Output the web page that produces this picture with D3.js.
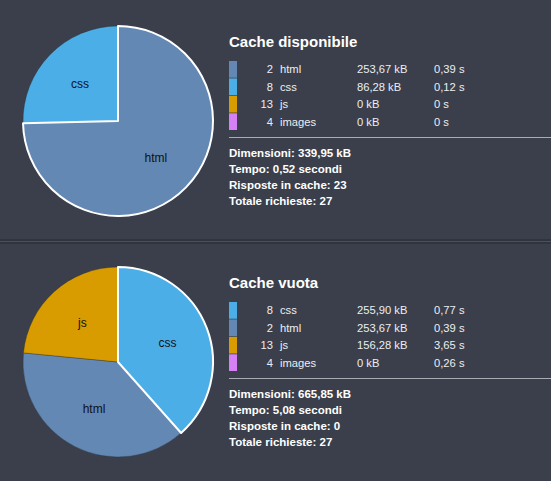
<!DOCTYPE html>
<html>
<head>
<meta charset="utf-8">
<script src="https://cdn.jsdelivr.net/npm/d3@7"></script>
<style>
  body { margin: 0; background: #3a3f4b; }
  svg text { font-family: "Liberation Sans", Arial, sans-serif; }
</style>
</head>
<body>
<div id="chart"></div>
<script>
// panel titles
var titles = ["Cache disponibile", "Cache vuota"];

// panel 1 rows
var types1 = ["html", "css", "js", "images"];
var counts1 = [2, 8, 13, 4];
var sizes1 = [253.67, 86.28, 0, 0];
var times1 = [0.39, 0.12, 0, 0];

// panel 2 rows
var types2 = ["css", "html", "js", "images"];
var counts2 = [8, 2, 13, 4];
var sizes2 = [255.90, 253.67, 156.28, 0];
var times2 = [0.77, 0.39, 3.65, 0.26];

// summary lines
var totalSize = [339.95, 665.85];
var totalTime = [0.52, 5.08];
var cached = [23, 0];
var requests = [27, 27];

var colors = { html: "#6388b4", css: "#4caee7", js: "#d89b00", images: "#d580f4" };

var width = 551, height = 481, panelH = 241;

var it = d3.formatLocale({ decimal: ",", thousands: ".", grouping: [3], currency: ["", "€"] });
var f2 = it.format(".2f");
function num(v) { return v === 0 ? "0" : f2(v); }

var svg = d3.select("#chart").append("svg")
    .attr("width", width)
    .attr("height", height);

// divider between the two panels
svg.append("rect").attr("x", 0).attr("y", 239).attr("width", width).attr("height", 5).attr("fill", "#30343e");
svg.append("rect").attr("x", 0).attr("y", 241).attr("width", width).attr("height", 1).attr("fill", "#4b505c");

var panels = [
    { types: types1, counts: counts1, sizes: sizes1, times: times1 },
    { types: types2, counts: counts2, sizes: sizes2, times: times2 }
];

panels.forEach(function (p, k) {
    var g = svg.append("g").attr("transform", "translate(0," + (k * panelH) + ")");

    var rows = p.types.map(function (t, i) {
        return { type: t, count: p.counts[i], size: p.sizes[i], time: p.times[i] };
    });

    var radius = 95;
    var pie = d3.pie().sort(null).value(function (d) { return d.size; });
    var arc = d3.arc().innerRadius(0).outerRadius(radius);
    var labelArc = d3.arc().innerRadius(53).outerRadius(53);

    var arcs = pie(rows).filter(function (d) { return d.data.size > 0; });
    // draw the selected (first) slice last so its outline stays on top
    var ordered = arcs.slice(1).concat(arcs.slice(0, 1));

    var pg = g.append("g").attr("transform", "translate(118,121)");
    pg.selectAll(".slice")
        .data(ordered)
        .enter().append("path")
        .attr("class", "slice")
        .attr("d", arc)
        .attr("fill", function (d) { return colors[d.data.type]; })
        .attr("stroke", function (d) { return d.index === 0 ? "#ffffff" : "rgba(40,44,54,0.6)"; })
        .attr("stroke-width", function (d) { return d.index === 0 ? 2 : 0.6; })
        .attr("stroke-linejoin", "round");

    pg.selectAll(".label")
        .data(arcs)
        .enter().append("text")
        .attr("class", "label")
        .attr("transform", function (d) { return "translate(" + labelArc.centroid(d) + ")"; })
        .attr("text-anchor", "middle")
        .attr("dy", "0.35em")
        .attr("fill", "#111")
        .style("font-size", "12px")
        .text(function (d) { return d.data.type; });

    // title
    g.append("text")
        .attr("x", 229).attr("y", 47)
        .attr("fill", "#ffffff")
        .style("font-size", "15px")
        .style("font-weight", "bold")
        .text(titles[k]);

    var rowY = d3.scaleBand().domain(d3.range(rows.length)).range([61, 130]).paddingInner(0.04);

    var r = g.selectAll(".row")
        .data(rows)
        .enter().append("g")
        .attr("class", "row")
        .attr("transform", function (d, i) { return "translate(0," + rowY(i) + ")"; });

    r.append("rect")
        .attr("x", 229).attr("width", 8)
        .attr("height", rowY.bandwidth())
        .attr("fill", function (d) { return colors[d.type]; });

    var ty = rowY.bandwidth() / 2 + 4;
    var tstyle = function (s) {
        return s.attr("y", ty).attr("fill", "#eceef1").style("font-size", "11.2px");
    };
    r.append("text").call(tstyle).attr("x", 273).attr("text-anchor", "end").text(function (d) { return d.count; });
    r.append("text").call(tstyle).attr("x", 280).text(function (d) { return d.type; });
    r.append("text").call(tstyle).attr("x", 357).text(function (d) { return num(d.size) + " kB"; });
    r.append("text").call(tstyle).attr("x", 434).text(function (d) { return num(d.time) + " s"; });

    g.append("line")
        .attr("x1", 229).attr("x2", width)
        .attr("y1", 137.5).attr("y2", 137.5)
        .attr("stroke", "#a9acb3").attr("stroke-width", 1);

    var lines = [
        "Dimensioni: " + num(totalSize[k]) + " kB",
        "Tempo: " + num(totalTime[k]) + " secondi",
        "Risposte in cache: " + cached[k],
        "Totale richieste: " + requests[k]
    ];
    g.selectAll(".sum")
        .data(lines)
        .enter().append("text")
        .attr("class", "sum")
        .attr("x", 229)
        .attr("y", function (d, i) { return 157 + i * 16; })
        .attr("fill", "#ffffff")
        .style("font-size", "11.5px")
        .style("font-weight", "bold")
        .text(function (d) { return d; });
});
</script>
</body>
</html>
